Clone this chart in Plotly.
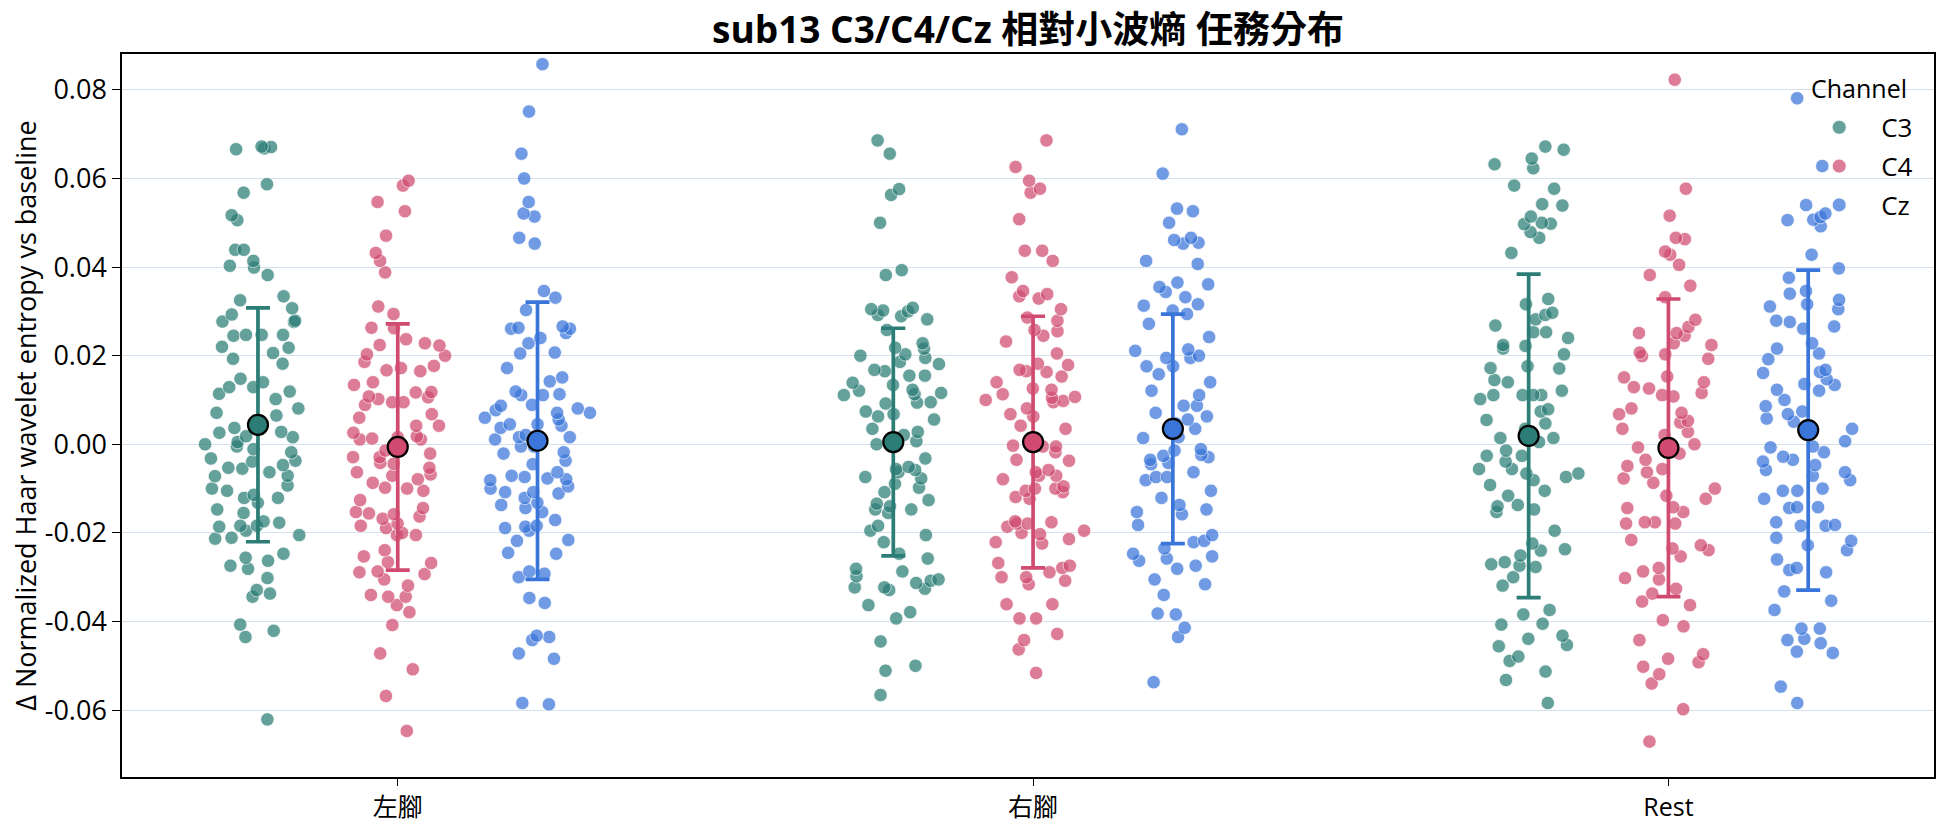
import plotly.graph_objects as go

categories = ['左腳', '右腳', 'Rest']
channels = ['C3', 'C4', 'Cz']

# ---- individual trial values ----
left_C3 = [0.0666, 0.0668, 0.0671, 0.0672, 0.0587, 0.0568, 0.0506, 0.0517, 0.0439, 0.0439, 0.0414, 0.0403,
           0.0399, 0.0382, 0.0334, 0.0325, 0.0307, 0.0293, 0.0279, 0.0277, 0.0276, 0.0247, 0.0247, 0.0245,
           0.0247, 0.0220, 0.0218, 0.0206, 0.0193, 0.0182, 0.0148, 0.0140, 0.0129, 0.0129, 0.0119, 0.0114,
           0.0102, 0.0081, 0.0071, 0.0065, 0.0051, 0.0037, 0.0028, 0.0026, 0.0018, 0.0016, 0.0005, 0.0,
           -0.0005, -0.0011, -0.0018, -0.0032, -0.0037, -0.0039, -0.0047, -0.0053, -0.0055, -0.0063, -0.0071,
           -0.0072, -0.0093, -0.0100, -0.0105, -0.0114, -0.0121, -0.0121, -0.0132, -0.0147, -0.0155, -0.0174,
           -0.0177, -0.0184, -0.0184, -0.0186, -0.0195, -0.0205, -0.0211, -0.0213, -0.0247, -0.0256, -0.0263,
           -0.0274, -0.0281, -0.0302, -0.0329, -0.0337, -0.0344, -0.0407, -0.0421, -0.0435, -0.0621]
left_C4 = [0.0595, 0.0584, 0.0547, 0.0526, 0.0471, 0.0432, 0.0414, 0.0388, 0.0311, 0.0294, 0.0263, 0.0262,
           0.0237, 0.0228, 0.0224, 0.0223, 0.0203, 0.0200, 0.0186, 0.0177, 0.0172, 0.0167, 0.0165, 0.0140,
           0.0134, 0.0118, 0.0117, 0.0108, 0.0106, 0.0102, 0.0095, 0.0089, 0.0095, 0.0068, 0.0060, 0.0042,
           0.0042, 0.0026, 0.0018, 0.0016, 0.0013, 0.0011, 0.0011, -0.0014, -0.0021, -0.0029, -0.0029,
           -0.0042, -0.0044, -0.0053, -0.0063, -0.0068, -0.0071, -0.0079, -0.0087, -0.0098, -0.0100, -0.0105,
           -0.0126, -0.0144, -0.0153, -0.0156, -0.0158, -0.0163, -0.0168, -0.0179, -0.0184, -0.0189, -0.0200,
           -0.0205, -0.0205, -0.0239, -0.0253, -0.0266, -0.0268, -0.0287, -0.0289, -0.0293, -0.0305, -0.0319,
           -0.0340, -0.0344, -0.0344, -0.0363, -0.0379, -0.0408, -0.0472, -0.0508, -0.0568, -0.0647]
left_Cz = [0.0858, 0.0751, 0.0656, 0.0600, 0.0547, 0.0521, 0.0514, 0.0466, 0.0453, 0.0346, 0.0331, 0.0303,
           0.0263, 0.0266, 0.0261, 0.0261, 0.0251, 0.0240, 0.0228, 0.0207, 0.0205, 0.0172, 0.0151, 0.0142,
           0.0119, 0.0113, 0.0111, 0.0111, 0.0089, 0.0087, 0.0081, 0.0077, 0.0071, 0.0071, 0.0060, 0.0056,
           0.0045, 0.0045, 0.0037, 0.0042, 0.0021, 0.0016, 0.0016, 0.0011, -0.0005, -0.0005, -0.0018,
           -0.0021, -0.0037, -0.0045, -0.0063, -0.0074, -0.0071, -0.0077, -0.0081, -0.0079, -0.0095, -0.0100,
           -0.0108, -0.0108, -0.0111, -0.0121, -0.0132, -0.0137, -0.0144, -0.0153, -0.0171, -0.0186, -0.0184,
           -0.0189, -0.0195, -0.0216, -0.0218, -0.0245, -0.0247, -0.0287, -0.0292, -0.0300, -0.0347, -0.0358,
           -0.0432, -0.0435, -0.0442, -0.0472, -0.0484, -0.0584, -0.0587]
right_C3 = [0.0686, 0.0656, 0.0576, 0.0563, 0.0500, 0.0393, 0.0382, 0.0308, 0.0305, 0.0302, 0.0300, 0.0292,
            0.0289, 0.0282, 0.0258, 0.0228, 0.0218, 0.0216, 0.0203, 0.0200, 0.0195, 0.0186, 0.0181, 0.0168,
            0.0165, 0.0155, 0.0155, 0.0139, 0.0134, 0.0123, 0.0121, 0.0116, 0.0113, 0.0111, 0.0095, 0.0094,
            0.0092, 0.0074, 0.0068, 0.0063, 0.0056, 0.0035, 0.0028, 0.0021, 0.0007, 0.0, -0.0032, -0.0051,
            -0.0056, -0.0058, -0.0063, -0.0074, -0.0077, -0.0089, -0.0098, -0.0108, -0.0126, -0.0134, -0.0140,
            -0.0147, -0.0147, -0.0155, -0.0184, -0.0195, -0.0205, -0.0221, -0.0247, -0.0258, -0.0281, -0.0287,
            -0.0308, -0.0313, -0.0323, -0.0323, -0.0298, -0.0305, -0.0326, -0.0329, -0.0363, -0.0379, -0.0393,
            -0.0445, -0.0500, -0.0511, -0.0566]
right_C4 = [0.0686, 0.0626, 0.0595, 0.0577, 0.0568, 0.0508, 0.0437, 0.0437, 0.0414, 0.0377, 0.0346, 0.0334,
            0.0339, 0.0329, 0.0305, 0.0286, 0.0279, 0.0258, 0.0255, 0.0245, 0.0232, 0.0205, 0.0182, 0.0179,
            0.0168, 0.0165, 0.0163, 0.0153, 0.0140, 0.0126, 0.0123, 0.0113, 0.0107, 0.0105, 0.0100, 0.0098,
            0.0095, 0.0081, 0.0068, 0.0063, 0.0042, 0.0035, -0.0003, -0.0005, -0.0005, -0.0018, -0.0035,
            -0.0037, -0.0058, -0.0063, -0.0071, -0.0071, -0.0079, -0.0095, -0.0100, -0.0100, -0.0105, -0.0108,
            -0.0119, -0.0123, -0.0174, -0.0176, -0.0179, -0.0179, -0.0186, -0.0195, -0.0200, -0.0203, -0.0214,
            -0.0221, -0.0224, -0.0268, -0.0274, -0.0279, -0.0289, -0.0300, -0.0300, -0.0308, -0.0316, -0.0361,
            -0.0361, -0.0393, -0.0393, -0.0428, -0.0442, -0.0463, -0.0516]
right_Cz = [0.0711, 0.0611, 0.0532, 0.0526, 0.0500, 0.0466, 0.0461, 0.0455, 0.0453, 0.0414, 0.0407, 0.0365,
            0.0361, 0.0355, 0.0344, 0.0332, 0.0316, 0.0313, 0.0302, 0.0294, 0.0272, 0.0242, 0.0214, 0.0211,
            0.0200, 0.0195, 0.0195, 0.0176, 0.0176, 0.0158, 0.0140, 0.0121, 0.0111, 0.0087, 0.0087, 0.0071,
            0.0063, 0.0056, 0.0047, 0.0035, 0.0016, 0.0014, -0.0011, -0.0014, -0.0024, -0.0026, -0.0029,
            -0.0035, -0.0042, -0.0045, -0.0063, -0.0074, -0.0074, -0.0081, -0.0105, -0.0121, -0.0137, -0.0147,
            -0.0158, -0.0153, -0.0182, -0.0205, -0.0218, -0.0221, -0.0235, -0.0247, -0.0253, -0.0258, -0.0263,
            -0.0274, -0.0281, -0.0316, -0.0340, -0.0305, -0.0382, -0.0384, -0.0414, -0.0435, -0.0537]
rest_C3 = [0.0672, 0.0665, 0.0645, 0.0632, 0.0623, 0.0584, 0.0577, 0.0542, 0.0539, 0.0514, 0.0497, 0.0498,
           0.0500, 0.0479, 0.0466, 0.0432, 0.0328, 0.0316, 0.0297, 0.0292, 0.0282, 0.0268, 0.0253, 0.0253,
           0.0240, 0.0224, 0.0222, 0.0216, 0.0203, 0.0171, 0.0172, 0.0176, 0.0145, 0.0140, 0.0121, 0.0111,
           0.0111, 0.0111, 0.0111, 0.0102, 0.0074, 0.0079, 0.0055, 0.0047, 0.0035, 0.0014, 0.0014, 0.0005,
           -0.0014, -0.0026, -0.0026, -0.0039, -0.0056, -0.0056, -0.0066, -0.0074, -0.0066, -0.0081, -0.0092,
           -0.0105, -0.0116, -0.0137, -0.0140, -0.0147, -0.0153, -0.0195, -0.0224, -0.0237, -0.0240, -0.0251,
           -0.0266, -0.0271, -0.0274, -0.0277, -0.0300, -0.0319, -0.0374, -0.0384, -0.0405, -0.0407, -0.0432,
           -0.0439, -0.0453, -0.0456, -0.0479, -0.0489, -0.0513, -0.0532, -0.0584]
rest_C4 = [0.0823, 0.0577, 0.0516, 0.0466, 0.0463, 0.0428, 0.0435, 0.0405, 0.0382, 0.0358, 0.0332, 0.0281,
           0.0265, 0.0251, 0.0251, 0.0245, 0.0224, 0.0228, 0.0203, 0.0207, 0.0199, 0.0193, 0.0153, 0.0151,
           0.0140, 0.0129, 0.0126, 0.0116, 0.0111, 0.0108, 0.0081, 0.0071, 0.0068, 0.0053, 0.0049, 0.0035,
           0.0028, 0.0021, 0.0, -0.0007, -0.0021, -0.0035, -0.0063, -0.0077, -0.0049, -0.0056, -0.0087,
           -0.0100, -0.0116, -0.0123, -0.0142, -0.0144, -0.0153, -0.0176, -0.0176, -0.0179, -0.0179, -0.0216,
           -0.0228, -0.0235, -0.0239, -0.0253, -0.0279, -0.0287, -0.0302, -0.0305, -0.0326, -0.0337, -0.0355,
           -0.0363, -0.0397, -0.0411, -0.0442, -0.0474, -0.0484, -0.0492, -0.0502, -0.0519, -0.0540, -0.0598,
           -0.0671]
rest_Cz = [0.0781, 0.0628, 0.0540, 0.0521, 0.0513, 0.0507, 0.0506, 0.0492, 0.0428, 0.0397, 0.0376, 0.0346,
           0.0340, 0.0326, 0.0316, 0.0311, 0.0305, 0.0279, 0.0276, 0.0266, 0.0261, 0.0228, 0.0216, 0.0205,
           0.0192, 0.0168, 0.0163, 0.0161, 0.0147, 0.0136, 0.0134, 0.0123, 0.0121, 0.0100, 0.0086, 0.0074,
           0.0068, 0.0058, 0.0051, 0.0035, 0.0026, 0.0007, -0.0005, -0.0007, -0.0018, -0.0028, -0.0035,
           -0.0039, -0.0047, -0.0058, -0.0063, -0.0071, -0.0081, -0.0100, -0.0105, -0.0105, -0.0123, -0.0144,
           -0.0142, -0.0142, -0.0176, -0.0182, -0.0184, -0.0184, -0.0211, -0.0218, -0.0228, -0.0239, -0.0260,
           -0.0279, -0.0284, -0.0289, -0.0332, -0.0353, -0.0374, -0.0416, -0.0416, -0.0442, -0.0449, -0.0471,
           -0.0439, -0.0468, -0.0547, -0.0584]

# ---- per-category mean and standard deviation ----
mean_C3 = [0.0044, 0.0005, 0.0019]
mean_C4 = [-0.0006, 0.0005, -0.0008]
mean_Cz = [0.0008, 0.0035, 0.0032]
sd_C3 = [0.0264, 0.0257, 0.0365]
sd_C4 = [0.0278, 0.0284, 0.0336]
sd_Cz = [0.0313, 0.0259, 0.0361]

ytick_vals = [-0.06, -0.04, -0.02, 0.00, 0.02, 0.04, 0.06, 0.08]
ytick_text = ['-0.06', '-0.04', '-0.02', '0.00', '0.02', '0.04', '0.06', '0.08']

values = {
    'C3': [left_C3, right_C3, rest_C3],
    'C4': [left_C4, right_C4, rest_C4],
    'Cz': [left_Cz, right_Cz, rest_Cz],
}
means = {'C3': mean_C3, 'C4': mean_C4, 'Cz': mean_Cz}
sds = {'C3': sd_C3, 'C4': sd_C4, 'Cz': sd_Cz}
colors = {'C3': '#2b7d76', 'C4': '#d04b6f', 'Cz': '#3a76da'}

FONT = 'Open Sans, Noto Sans CJK TC, sans-serif'

fig = go.Figure()

for ch in channels:
    xs, ys = [], []
    for cat, vals in zip(categories, values[ch]):
        xs += [cat] * len(vals)
        ys += vals
    fig.add_trace(go.Box(
        x=xs, y=ys, name=ch, offsetgroup=ch, legendgroup=ch, showlegend=False,
        boxpoints='all', jitter=1.0, pointpos=0,
        fillcolor='rgba(0,0,0,0)', line=dict(color='rgba(0,0,0,0)', width=0),
        marker=dict(color=colors[ch], opacity=0.72, size=13.5,
                    line=dict(color='white', width=0.8)),
        hoveron='points',
    ))

for ch in channels:
    fig.add_trace(go.Scatter(
        x=categories, y=means[ch], mode='markers', name=ch, offsetgroup=ch,
        legendgroup=ch, showlegend=False,
        marker=dict(color=colors[ch], size=20, line=dict(color='black', width=2.2)),
        error_y=dict(type='data', array=sds[ch], symmetric=True, color=colors[ch],
                     thickness=3.7, width=12),
    ))

for ch in channels:
    fig.add_trace(go.Scatter(
        x=[None], y=[None], mode='markers', name=ch, offsetgroup=ch,
        legendgroup=ch, showlegend=True,
        marker=dict(color=colors[ch], opacity=0.72, size=14,
                    line=dict(color='white', width=0.8)),
    ))

fig.update_layout(
    width=1944, height=827,
    margin=dict(l=122, r=10, t=54, b=50),
    paper_bgcolor='white', plot_bgcolor='white',
    font=dict(family=FONT, size=25, color='black'),
    title=dict(text='<b>sub13 C3/C4/Cz 相對小波熵 任務分布</b>', x=0.5, xref='paper',
               xanchor='center', y=0.964, yanchor='middle',
               font=dict(family=FONT, size=37, color='black')),
    boxmode='group', boxgap=0.34, boxgroupgap=0.2,
    scattermode='group', scattergap=0.34,
    legend=dict(x=0.9245, xanchor='left', y=0.931, yanchor='top',
                bgcolor='rgba(255,255,255,0)', tracegroupgap=2, itemwidth=74,
                font=dict(size=26)),
    annotations=[dict(text='Channel', xref='paper', yref='paper', x=0.986, y=0.953,
                      xanchor='right', yanchor='middle', showarrow=False,
                      font=dict(size=25, color='black'))],
    showlegend=True,
)

fig.update_xaxes(
    type='category', categoryorder='array', categoryarray=categories,
    range=[-0.434, 2.418],
    showline=True, linecolor='black', linewidth=1.5, mirror=True,
    ticks='outside', ticklen=7, tickcolor='black', showgrid=False,
    tickfont=dict(size=25), automargin=False,
)
fig.update_yaxes(
    range=[-0.0751, 0.0881],
    tickvals=ytick_vals, ticktext=ytick_text,
    showline=True, linecolor='black', linewidth=1.5, mirror=True,
    ticks='outside', ticklen=8, tickcolor='black',
    showgrid=True, gridcolor='#d5e1ec', gridwidth=1.3, zeroline=False,
    title=dict(text='Δ Normalized Haar wavelet entropy vs baseline', font=dict(size=27), standoff=0),
    tickfont=dict(size=27), automargin=False,
)

fig.write_html('out.html')
